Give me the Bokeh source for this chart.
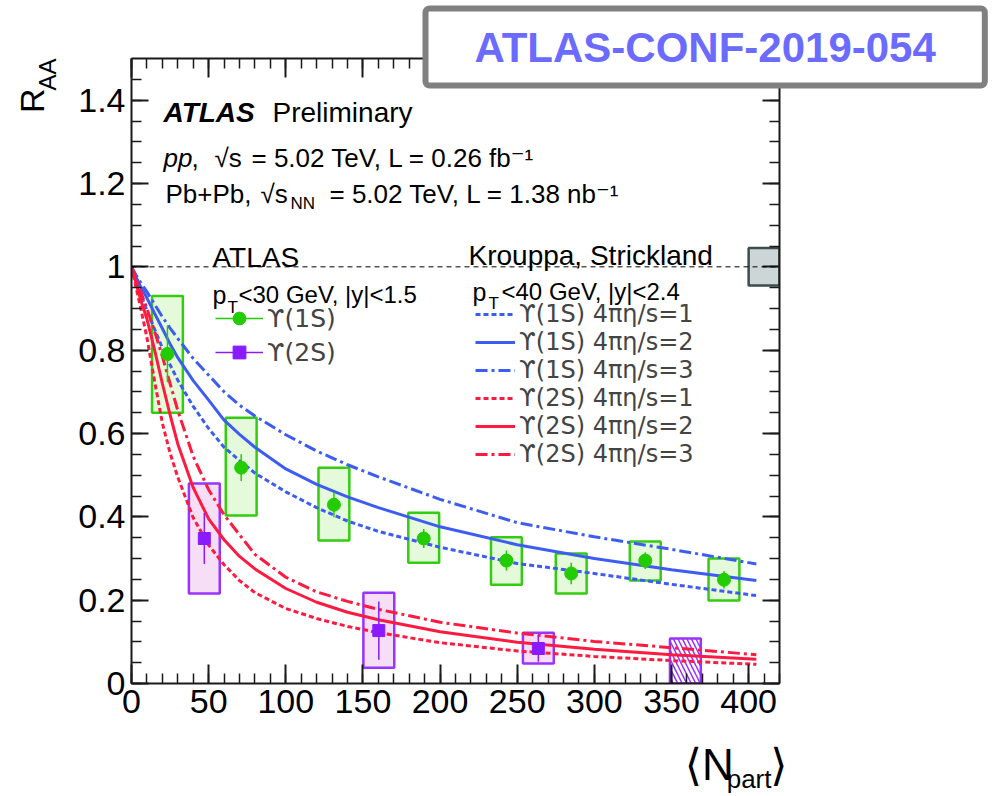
from bokeh.plotting import figure
from bokeh.models import (ColumnDataSource, LinearAxis, Range1d, SingleIntervalTicker,
                          Label, Legend, LegendItem, Span, CustomJSTickFormatter, Title)
from bokeh.embed import file_html
from bokeh.resources import INLINE

# ---------------- data ----------------
npart_1s = [23.3, 71.1, 131.2, 189.4, 243.0, 285.0, 333.0, 384.0]
raa_1s = [0.791, 0.518, 0.429, 0.348, 0.295, 0.264, 0.295, 0.249]
stat_1s = [0.068, 0.032, 0.030, 0.023, 0.024, 0.026, 0.020, 0.021]
syslo_1s = [0.650, 0.403, 0.343, 0.290, 0.237, 0.216, 0.247, 0.199]
syshi_1s = [0.930, 0.638, 0.518, 0.410, 0.351, 0.312, 0.341, 0.300]

npart_2s = [47.2, 160.3, 263.7]
raa_2s = [0.348, 0.127, 0.084]
stat_2s = [0.061, 0.070, 0.032]
syslo_2s = [0.216, 0.038, 0.048]
syshi_2s = [0.480, 0.218, 0.122]

ul_npart_2s = [359.0]
ul_raa_2s = [0.108]

global_unc = 0.045

npart_th = [0, 3, 6, 10, 15, 20, 25, 30, 40, 50, 60, 70, 80, 100, 120, 140, 160, 200, 250, 300, 350, 405]
ks_1s_eta1 = [1.000, 0.965, 0.935, 0.895, 0.850, 0.805, 0.765, 0.728, 0.665, 0.612, 0.567, 0.535, 0.505,
              0.460, 0.422, 0.390, 0.365, 0.327, 0.288, 0.264, 0.238, 0.211]
ks_1s_eta2 = [1.000, 0.975, 0.952, 0.925, 0.888, 0.852, 0.815, 0.782, 0.727, 0.680, 0.632, 0.598, 0.567,
              0.515, 0.478, 0.448, 0.422, 0.376, 0.333, 0.300, 0.273, 0.247]
ks_1s_eta3 = [1.000, 0.980, 0.962, 0.940, 0.910, 0.880, 0.853, 0.828, 0.780, 0.740, 0.700, 0.668, 0.642,
              0.597, 0.558, 0.525, 0.496, 0.442, 0.386, 0.352, 0.322, 0.287]
ks_2s_eta1 = [1.000, 0.950, 0.900, 0.830, 0.725, 0.625, 0.553, 0.495, 0.398, 0.332, 0.285, 0.247, 0.218,
              0.180, 0.156, 0.137, 0.122, 0.098, 0.078, 0.065, 0.055, 0.046]
ks_2s_eta2 = [1.000, 0.960, 0.920, 0.875, 0.800, 0.720, 0.645, 0.575, 0.470, 0.395, 0.345, 0.305, 0.275,
              0.228, 0.195, 0.171, 0.153, 0.124, 0.099, 0.082, 0.069, 0.058]
ks_2s_eta3 = [1.000, 0.970, 0.940, 0.900, 0.845, 0.785, 0.720, 0.655, 0.545, 0.465, 0.405, 0.357, 0.310,
              0.255, 0.220, 0.197, 0.178, 0.147, 0.121, 0.101, 0.086, 0.069]

x_tick_step = 50
y_tick_step = 0.2

# ---------------- layout / style ----------------
W, H = 994, 796
FL, FR, FT, FB = 131, 779, 58, 683
X0, X1, Y0, Y1 = 0, 420, 0, 1.5
BOX_HW = 10
FONT = "Liberation Sans, DejaVu Sans, sans-serif"
LEGFONT = "DejaVu Sans, Liberation Sans, sans-serif"
BLUE = "#3c5cf2"
RED = "#ff1a40"
GREEN = "#22cc00"
GREEN_BOX = "#33cc11"
GREEN_FILL = "#e4fadb"
PURPLE = "#8a1aff"
PURPLE_BOX = "#9933ff"
PURPLE_FILL = "#f7def7"


def px2x(px):
    return X0 + (px - FL) * (X1 - X0) / (FR - FL)


def py2y(py):
    return Y0 + (FB - py) * (Y1 - Y0) / (FB - FT)


p = figure(width=W, height=H, x_range=Range1d(X0, X1), y_range=Range1d(Y0, Y1),
           output_backend="svg", toolbar_location=None,
           x_axis_location=None, y_axis_location=None,
           min_border_left=FL, min_border_right=W - FR,
           min_border_top=FT, min_border_bottom=H - FB)
p.xgrid.grid_line_color = None
p.ygrid.grid_line_color = None
p.outline_line_color = None
p.background_fill_color = "white"
p.border_fill_color = "white"

empty = CustomJSTickFormatter(code="return ''")
yfmt = CustomJSTickFormatter(code="return String(parseFloat(tick.toFixed(2)))")


def make_axis(kind, side, labels):
    if kind == "x":
        tk = SingleIntervalTicker(interval=x_tick_step, num_minor_ticks=5)
        mj = 19
    else:
        tk = SingleIntervalTicker(interval=y_tick_step, num_minor_ticks=4)
        mj = 17
    ax = LinearAxis(ticker=tk)
    ax.axis_line_width = 2
    ax.axis_line_color = "#1a1a1a"
    ax.major_tick_line_color = "#1a1a1a"
    ax.minor_tick_line_color = "#1a1a1a"
    ax.major_tick_in = mj
    ax.major_tick_out = 0
    ax.minor_tick_in = 10
    ax.minor_tick_out = 0
    ax.major_tick_line_width = 2
    ax.minor_tick_line_width = 1.5
    if labels:
        ax.major_label_text_font = FONT
        ax.major_label_text_font_size = "34px"
        ax.major_label_text_color = "black"
        ax.major_label_standoff = 6
        if kind == "y":
            ax.formatter = yfmt
    else:
        ax.formatter = empty
        ax.major_label_standoff = 0
        ax.major_label_text_font_size = "1px"
    p.add_layout(ax, side)
    return ax


make_axis("x", "below", True)
make_axis("y", "left", True)
make_axis("x", "above", False)
make_axis("y", "right", False)

p.add_layout(Span(location=1.0, dimension="width", line_color="black", line_width=1,
                  line_dash="5 4"))

# ---------------- systematic boxes ----------------
src1 = ColumnDataSource(dict(
    x=npart_1s, y=raa_1s,
    left=[v - BOX_HW for v in npart_1s], right=[v + BOX_HW for v in npart_1s],
    lo=syslo_1s, hi=syshi_1s,
    elo=[a - b for a, b in zip(raa_1s, stat_1s)], ehi=[a + b for a, b in zip(raa_1s, stat_1s)]))
src2 = ColumnDataSource(dict(
    x=npart_2s, y=raa_2s,
    left=[v - BOX_HW for v in npart_2s], right=[v + BOX_HW for v in npart_2s],
    lo=syslo_2s, hi=syshi_2s,
    elo=[a - b for a, b in zip(raa_2s, stat_2s)], ehi=[a + b for a, b in zip(raa_2s, stat_2s)]))
srcul = ColumnDataSource(dict(
    left=[v - BOX_HW for v in ul_npart_2s], right=[v + BOX_HW for v in ul_npart_2s],
    top=ul_raa_2s, bottom=[0.0 for _ in ul_raa_2s]))

p.quad(left="left", right="right", bottom="lo", top="hi", source=src1,
       fill_color=GREEN_FILL, line_color=GREEN_BOX, line_width=2.5)
p.quad(left="left", right="right", bottom="lo", top="hi", source=src2,
       fill_color=PURPLE_FILL, line_color=PURPLE_BOX, line_width=2.5)
p.quad(left="left", right="right", bottom="bottom", top="top", source=srcul,
       fill_color="white", line_color=PURPLE_BOX, line_width=2.5,
       hatch_pattern="\\", hatch_color=PURPLE_BOX, hatch_scale=9, hatch_weight=1.5)
p.quad(left=[400], right=[X1], bottom=[1 - global_unc], top=[1 + global_unc],
       fill_color="#ccd6d6", line_color="#3d4d4d", line_width=2.5)

# ---------------- theory curves ----------------
DOT = "5 3"
DASHDOT = "12 4 3 4"
th = {}
th["1s1"] = p.line(npart_th, ks_1s_eta1, line_color=BLUE, line_width=3, line_dash=DOT)
th["1s2"] = p.line(npart_th, ks_1s_eta2, line_color=BLUE, line_width=3)
th["1s3"] = p.line(npart_th, ks_1s_eta3, line_color=BLUE, line_width=3, line_dash=DASHDOT)
th["2s1"] = p.line(npart_th, ks_2s_eta1, line_color=RED, line_width=3, line_dash=DOT)
th["2s2"] = p.line(npart_th, ks_2s_eta2, line_color=RED, line_width=3)
th["2s3"] = p.line(npart_th, ks_2s_eta3, line_color=RED, line_width=3, line_dash=DASHDOT)

# ---------------- data points ----------------
seg1 = p.segment(x0="x", y0="elo", x1="x", y1="ehi", source=src1, line_color=GREEN, line_width=1.5)
seg2 = p.segment(x0="x", y0="elo", x1="x", y1="ehi", source=src2, line_color=PURPLE, line_width=1.5)
sc1 = p.scatter("x", "y", source=src1, marker="circle", size=13, fill_color=GREEN, line_color=GREEN)
sc2 = p.scatter("x", "y", source=src2, marker="square", size=12, fill_color=PURPLE, line_color=PURPLE)

# ---------------- legends ----------------
leg_l = Legend(items=[LegendItem(label="ϒ(1S)", renderers=[seg1, sc1]),
                      LegendItem(label="ϒ(2S)", renderers=[seg2, sc2])],
               location=(84, 315), orientation="vertical",
               glyph_width=48, glyph_height=32, spacing=2, padding=0, margin=0,
               label_standoff=4, label_text_font=LEGFONT, label_text_font_size="25px",
               background_fill_alpha=0, border_line_color=None)
leg_r = Legend(items=[LegendItem(label="ϒ(1S) 4πη/s=1", renderers=[th["1s1"]]),
                      LegendItem(label="ϒ(1S) 4πη/s=2", renderers=[th["1s2"]]),
                      LegendItem(label="ϒ(1S) 4πη/s=3", renderers=[th["1s3"]]),
                      LegendItem(label="ϒ(2S) 4πη/s=1", renderers=[th["2s1"]]),
                      LegendItem(label="ϒ(2S) 4πη/s=2", renderers=[th["2s2"]]),
                      LegendItem(label="ϒ(2S) 4πη/s=3", renderers=[th["2s3"]])],
               location=(344, 215), orientation="vertical",
               glyph_width=40, glyph_height=20, label_height=20, spacing=0, padding=0, margin=0,
               label_standoff=4, label_text_font=LEGFONT, label_text_font_size="24px",
               background_fill_alpha=0, border_line_color=None)
p.add_layout(leg_l)
p.add_layout(leg_r)


# ---------------- texts inside the frame ----------------
def txt(px, py, text, size, style="normal", align="left", baseline="alphabetic"):
    p.add_layout(Label(x=px2x(px), y=py2y(py), text=text, text_font=FONT,
                       text_font_size=f"{size}px", text_font_style=style, text_align=align,
                       text_baseline=baseline, text_color="black"))


txt(163, 112, "ATLAS", 28, style="bold italic")
txt(272, 112, "Preliminary", 28)
txt(163, 157, "pp", 26, style="italic")
txt(191, 157, ",", 26)
txt(214, 157, "√s", 26)
txt(251, 157, "= 5.02 TeV, L = 0.26 fb⁻¹", 26)
txt(165, 193, "Pb+Pb,", 26)
txt(260, 193, "√s", 26)
txt(290, 203, "NN", 17)
txt(329, 193, "= 5.02 TeV, L = 1.38 nb⁻¹", 26)

txt(212, 257, "ATLAS", 28)
txt(212, 294, "p", 25)
txt(227, 307, "T", 17)
txt(238, 294, "<30 GeV, |y|<1.5", 24)
txt(468, 255, "Krouppa, Strickland", 28)
txt(472, 291, "p", 25)
txt(488, 303, "T", 17)
txt(501, 291, "<40 GeV, |y|<2.4", 24)


# ---------------- texts outside the frame (side-panel titles) ----------------
def side_title(side, text, size, align, valign, offset, standoff, style="normal", color="black",
               **kw):
    t = Title(text=text, align=align, vertical_align=valign, offset=offset, standoff=standoff,
              text_font=FONT, text_font_size=f"{size}px", text_font_style=style,
              text_color=color, **kw)
    p.add_layout(t, side)
    return t


# y-axis title R_AA (subscript first: nearer to the axis)
side_title("left", "AA", 24, "right", "bottom", 0, 29)
side_title("left", "R", 34, "right", "bottom", 30, -66)

# x-axis title <N_part>
side_title("below", "⟨N\u00a0\u00a0\u00a0⟩", 44, "right", "top", -8, -48,
           padding=dict(left=0, right=0, top=48, bottom=0))
side_title("below", "part", 26, "right", "top", 8, -17,
           padding=dict(left=0, right=0, top=6, bottom=0))

# header box
side_title("above", "ATLAS-CONF-2019-054", 42, "left", "bottom", 294, -54, style="bold",
           color="#6b6bff", background_fill_color="white", border_line_color="#808080",
           border_line_width=6, padding=(49, 15), border_radius=4)

open("out.html", "w").write(file_html(p, INLINE))
